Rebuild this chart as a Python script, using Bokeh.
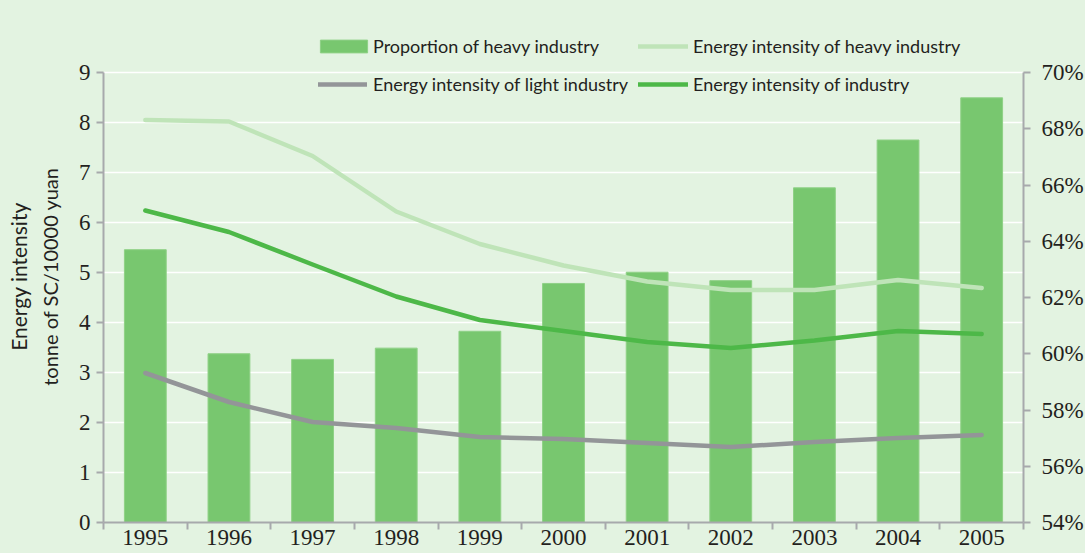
from bokeh.plotting import figure
from bokeh.models import (Range1d, LinearAxis, FixedTicker, PrintfTickFormatter,
                          Legend, LegendItem, ColumnDataSource)
from bokeh.embed import file_html
from bokeh.resources import INLINE

# ---------------- data ----------------
years = ["1995", "1996", "1997", "1998", "1999", "2000", "2001", "2002", "2003", "2004", "2005"]
heavy_share = [63.7, 60.0, 59.8, 60.2, 60.8, 62.5, 62.9, 62.6, 65.9, 67.6, 69.1]        # % (right axis)
ei_heavy = [8.05, 8.02, 7.33, 6.22, 5.57, 5.14, 4.82, 4.65, 4.65, 4.85, 4.69]
ei_light = [2.99, 2.41, 2.01, 1.89, 1.71, 1.67, 1.59, 1.51, 1.61, 1.69, 1.75]
ei_industry = [6.24, 5.81, 5.16, 4.52, 4.05, 3.83, 3.61, 3.49, 3.64, 3.83, 3.77]
left_ticks = [0, 1, 2, 3, 4, 5, 6, 7, 8, 9]
pct_ticks = [54, 56, 58, 60, 62, 64, 66, 68, 70]
series_names = ["Proportion of heavy industry", "Energy intensity of heavy industry",
                "Energy intensity of light industry", "Energy intensity of industry"]
ytitle = ["Energy intensity", "tonne of SC/10000 yuan"]

# ---------------- styles ----------------
BG = "#e3f3e1"
BAR = "#78c76f"
BAR_EDGE = "#8fd186"
C_HEAVY = "#bfe4b8"
C_LIGHT = "#939598"
C_IND = "#4db848"
AXIS = "#a7a9ac"
TXT = "#231f20"
SANS = "Lato"
SERIF = "Liberation Serif"

# headroom above the top tick, used by the legend (in left-axis units)
HEAD = 0.84

n = len(years)
xc = [i + 0.5 for i in range(n)]
src = ColumnDataSource(dict(x=xc, share=heavy_share, heavy=ei_heavy,
                            light=ei_light, ind=ei_industry))

lo, hi = left_ticks[0], left_ticks[-1]
plo, phi = pct_ticks[0], pct_ticks[-1]
p_head = HEAD * (phi - plo) / (hi - lo)

p = figure(frame_width=920, frame_height=492,
           x_range=Range1d(0, n), y_range=Range1d(lo, hi + HEAD),
           output_backend="svg", toolbar_location=None,
           min_border_left=103, min_border_right=62, min_border_top=30, min_border_bottom=31,
           background_fill_color=BG, border_fill_color=BG, outline_line_color=None)
p.extra_y_ranges = {"pct": Range1d(plo, phi + p_head)}

# grid
p.xgrid.visible = False
p.ygrid.ticker = FixedTicker(ticks=left_ticks)
p.ygrid.grid_line_color = "white"
p.ygrid.grid_line_width = 1.5

# left axis
ya = p.yaxis[0]
ya.ticker = FixedTicker(ticks=left_ticks)
ya.bounds = (lo, hi)
ya.axis_line_color = AXIS
ya.axis_line_width = 2
ya.major_tick_line_color = AXIS
ya.major_tick_line_width = 2
ya.major_tick_out = 7
ya.major_tick_in = 0
ya.minor_tick_line_color = None
ya.major_label_standoff = 6
ya.major_label_text_font = SERIF
ya.major_label_text_font_size = "23px"
ya.major_label_text_color = TXT
ya.axis_label = ytitle[1]
ya.axis_label_standoff = 14
ya.axis_label_text_font = SANS
ya.axis_label_text_font_size = "20px"
ya.axis_label_text_font_style = "normal"
ya.axis_label_text_color = TXT

# outer left "axis" that only carries the first title line
ya2 = LinearAxis(ticker=FixedTicker(ticks=[]), axis_label=ytitle[0])
ya2.axis_line_color = None
ya2.major_tick_line_color = None
ya2.minor_tick_line_color = None
ya2.major_tick_out = 0
ya2.major_tick_in = 0
ya2.major_label_standoff = 0
ya2.axis_label_standoff = 4
ya2.axis_label_text_font = SANS
ya2.axis_label_text_font_size = "21px"
ya2.axis_label_text_font_style = "normal"
ya2.axis_label_text_color = TXT
p.add_layout(ya2, "left")

# bottom axis (labels at category centres, ticks at category boundaries)
xa = p.xaxis[0]
xa.ticker = FixedTicker(ticks=xc, minor_ticks=list(range(n + 1)))
xa.major_label_overrides = {c: y for c, y in zip(xc, years)}
xa.axis_line_color = AXIS
xa.axis_line_width = 2
xa.major_tick_line_color = None
xa.major_tick_out = 0
xa.major_tick_in = 0
xa.minor_tick_line_color = AXIS
xa.minor_tick_line_width = 2
xa.minor_tick_out = 7
xa.minor_tick_in = 0
xa.major_label_standoff = 0
xa.major_label_text_font = SERIF
xa.major_label_text_font_size = "23px"
xa.major_label_text_color = TXT

# right axis
ra = LinearAxis(y_range_name="pct", ticker=FixedTicker(ticks=pct_ticks),
                formatter=PrintfTickFormatter(format="%d%%"))
ra.bounds = (plo, phi)
ra.axis_line_color = AXIS
ra.axis_line_width = 2
ra.major_tick_line_color = AXIS
ra.major_tick_line_width = 2
ra.major_tick_out = 7
ra.major_tick_in = 0
ra.minor_tick_line_color = None
ra.major_label_standoff = 11
ra.major_label_text_font = SERIF
ra.major_label_text_font_size = "23px"
ra.major_label_text_color = TXT
p.add_layout(ra, "right")

# glyphs
r_bar = p.vbar(x="x", top="share", bottom=plo, width=0.5, y_range_name="pct",
               source=src, fill_color=BAR, line_color=BAR_EDGE, line_width=1)
r_heavy = p.line("x", "heavy", source=src, line_color=C_HEAVY, line_width=4.5,
                 line_cap="round", line_join="round")
r_light = p.line("x", "light", source=src, line_color=C_LIGHT, line_width=4.5,
                 line_cap="round", line_join="round")
r_ind = p.line("x", "ind", source=src, line_color=C_IND, line_width=4.5,
               line_cap="round", line_join="round")


def add_leg(renderer, label, vx, vy, gw, standoff):
    leg = Legend(items=[LegendItem(label=label, renderers=[renderer])],
                 location=(vx, vy), orientation="horizontal",
                 glyph_width=gw, glyph_height=16, label_height=16,
                 label_standoff=standoff, padding=0, margin=0, spacing=0,
                 border_line_color=None, background_fill_alpha=0,
                 label_text_font=SANS, label_text_font_size="18px",
                 label_text_color=TXT)
    p.add_layout(leg)


add_leg(r_bar, series_names[0], 211, 465, 59, 0)
add_leg(r_heavy, series_names[1], 535, 465, 50, 5)
add_leg(r_light, series_names[2], 215, 427, 49, 6)
add_leg(r_ind, series_names[3], 535, 427, 50, 5)

html = file_html(p, INLINE, title="Energy intensity")
html = html.replace("</head>",
                    "<style>html,body{background:%s;overflow:hidden;}</style></head>" % BG, 1)
open("out.html", "w").write(html)
